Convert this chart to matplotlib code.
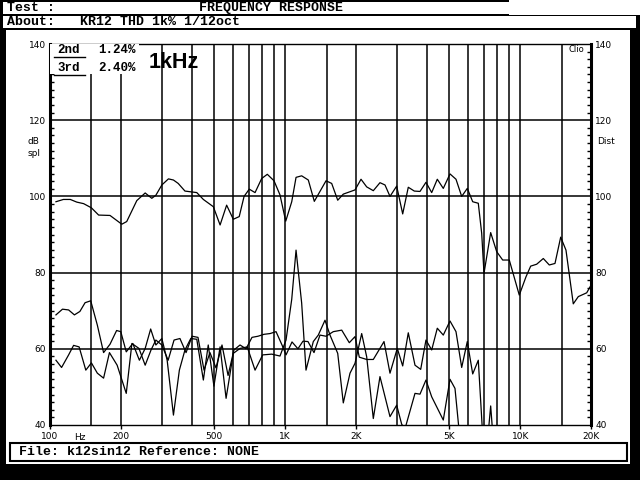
import matplotlib
matplotlib.use("Agg")
import matplotlib.pyplot as plt
from matplotlib.patches import Rectangle
from matplotlib.ticker import FixedLocator, NullLocator, MultipleLocator

# fundamental response, 1/12 oct (Hz, dB spl)
fund_freq = [106, 114, 122, 130, 139, 150, 161, 180, 202, 212, 234, 254, 271, 282, 299,
             319, 335, 351, 375, 421, 449, 495, 529, 564, 602, 638, 669, 704, 745, 795,
             840, 897, 951, 1006, 1067, 1113, 1176, 1255, 1331, 1493, 1578, 1674, 1768,
             1983, 2103, 2223, 2372, 2532, 2660, 2793, 2982, 3163, 3341, 3544, 3747, 3973,
             4202, 4439, 4707, 5027, 5331, 5637, 5955, 6279, 6632, 6857, 7013, 7487, 7941,
             8422, 8984, 9908, 10581, 11079, 11749, 12536, 13293, 14056, 14862, 15653,
             16813, 17660, 19180, 20000]
fund_db = [98.6, 99.2, 99.2, 98.5, 98.1, 97.0, 95.1, 95.0, 92.7, 93.4, 98.9, 100.9, 99.5,
           100.3, 103.0, 104.6, 104.3, 103.4, 101.4, 101.0, 99.2, 97.3, 92.5, 97.7, 94.0,
           94.7, 100.0, 101.9, 101.0, 104.7, 105.8, 104.1, 100.4, 93.5, 98.6, 105.0, 105.4,
           104.3, 98.7, 104.1, 103.4, 99.0, 100.6, 101.7, 104.5, 102.5, 101.5, 103.6, 103.0,
           100.0, 102.7, 95.4, 102.4, 101.4, 101.3, 103.7, 101.0, 104.5, 102.1, 105.9, 104.5,
           100.0, 102.1, 98.6, 98.2, 90.3, 79.8, 90.5, 85.5, 83.3, 83.3, 74.1, 78.9, 81.7,
           82.2, 83.7, 82.0, 82.4, 89.3, 85.9, 71.8, 73.7, 74.7, 76.7]

# 2nd harmonic distortion
h2_freq = [106, 113, 120, 127, 134, 141, 149, 159, 169, 180, 192, 200, 211, 225, 240, 254,
           268, 282, 299, 315, 335, 355, 375, 397, 421, 449, 471, 498, 529, 561, 602, 643,
           690, 745, 803, 877, 951, 1009, 1067, 1113, 1176, 1227, 1318, 1384, 1478, 1552,
           1630, 1674, 1768, 1888, 1983, 2117, 2223, 2372, 2532, 2793, 2982, 3132, 3235,
           3568, 3747, 3973, 4202, 4707, 5027, 5279, 5506]
h2_db = [68.9, 70.4, 70.2, 68.9, 69.8, 72.1, 72.6, 66.2, 59.0, 61.2, 64.8, 64.5, 59.2, 61.4,
         57.0, 60.1, 65.2, 61.0, 62.7, 57.0, 42.6, 54.4, 59.7, 62.7, 62.5, 51.8, 61.0, 50.2,
         60.5, 47.0, 58.8, 60.1, 60.5, 54.4, 58.4, 58.6, 58.1, 62.3, 73.0, 85.9, 72.0, 54.4,
         61.9, 63.6, 67.5, 63.6, 60.5, 58.8, 45.8, 53.6, 56.2, 64.0, 57.9, 41.7, 52.7, 42.2,
         45.2, 40.2, 39.0, 48.3, 48.1, 51.8, 47.4, 41.3, 52.0, 49.6, 38.0]

# 3rd harmonic distortion
h3_freq = [106, 112, 120, 126, 133, 142, 150, 159, 169, 179, 193, 211, 223, 239, 254, 269,
           282, 299, 318, 337, 357, 379, 402, 426, 452, 479, 508, 539, 572, 606, 643, 682,
           723, 767, 813, 863, 915, 970, 1009, 1070, 1134, 1191, 1251, 1327, 1407, 1493,
           1603, 1741, 1875, 1983, 2068, 2223, 2372, 2634, 2793, 3000, 3163, 3341, 3568,
           3773, 3973, 4202, 4439, 4707, 5027, 5331, 5637, 5955, 6279, 6632, 6913, 7313,
           7487, 7635]
h3_db = [57.0, 55.1, 58.4, 60.9, 60.5, 54.4, 56.3, 53.6, 52.3, 59.0, 55.7, 48.3, 61.4, 60.1,
         55.7, 59.7, 62.3, 61.0, 57.0, 62.3, 62.7, 59.0, 63.3, 63.0, 54.4, 59.0, 55.0, 61.0,
         53.0, 59.7, 61.0, 60.0, 63.0, 63.3, 63.8, 64.0, 64.5, 61.0, 58.4, 61.8, 60.0, 62.0,
         61.9, 59.0, 63.6, 63.3, 64.5, 64.9, 61.6, 63.2, 57.8, 57.2, 57.2, 61.9, 53.6, 60.1,
         55.5, 64.2, 55.7, 54.6, 62.3, 59.7, 65.4, 63.6, 67.3, 64.5, 55.1, 61.9, 53.4, 57.0,
         38.0, 38.0, 45.0, 38.0]

grid_freqs = [150, 200, 300, 400, 500, 600, 700, 800, 900, 1000, 1500, 2000, 3000, 4000,
              5000, 6000, 7000, 8000, 9000, 10000, 15000]
grid_levels = [60, 80, 100, 120]
x_ticks = [100, 200, 500, 1000, 2000, 5000, 10000, 20000]
x_labels = ["100", "200", "500", "1K", "2K", "5K", "10K", "20K"]
y_ticks = [40, 60, 80, 100, 120, 140]

mono = "Liberation Mono"

fig = plt.figure(figsize=(6.4, 4.8), dpi=100)
fig.patch.set_facecolor("black")

# background panel in pixel coords
bg = fig.add_axes([0, 0, 1, 1])
bg.set_xlim(0, 640)
bg.set_ylim(480, 0)
bg.axis("off")
bg.add_patch(Rectangle((3, 2), 506, 12, facecolor="white", edgecolor="none"))
bg.add_patch(Rectangle((509, 0), 131, 15, facecolor="white", edgecolor="none"))
bg.add_patch(Rectangle((3, 16), 633, 12, facecolor="white", edgecolor="none"))
bg.add_patch(Rectangle((6, 30), 624, 434, facecolor="white", edgecolor="none"))
bg.add_patch(Rectangle((10, 443), 617, 18, facecolor="white", edgecolor="black", lw=1.5))

bg.text(7, 8, "Test :", fontsize=9.5, family=mono, weight="bold", va="center")
bg.text(271, 8, "FREQUENCY RESPONSE", fontsize=9.5, family=mono, weight="bold",
        va="center", ha="center")
bg.text(7, 22, "About:", fontsize=9.5, family=mono, weight="bold", va="center")
bg.text(80, 22, "KR12 THD 1k% 1/12oct", fontsize=9.5, family=mono, weight="bold", va="center")
bg.text(19, 452, "File: k12sin12 Reference: NONE", fontsize=9.5, family=mono,
        weight="bold", va="center")
bg.text(80, 437, "Hz", fontsize=6.5, va="center", ha="center")
bg.text(28, 141, "dB", fontsize=6.5, va="center")
bg.text(28, 153, "spl", fontsize=6.5, va="center")
bg.text(597, 141, "Dist", fontsize=6.5, va="center")

ax = fig.add_axes([50 / 640, 55 / 480, 541 / 640, 381 / 480])
ax.set_facecolor("none")
ax.set_xscale("log")
ax.set_xlim(100, 20000)
ax.set_ylim(40, 140)

for f in grid_freqs:
    ax.axvline(f, color="black", lw=1.1, zorder=1)
for lv in grid_levels:
    ax.axhline(lv, color="black", lw=1.1, zorder=1)

ax.plot(fund_freq, fund_db, color="black", lw=0.9, zorder=3)
ax.plot(h2_freq, h2_db, color="black", lw=0.9, zorder=3)
ax.plot(h3_freq, h3_db, color="black", lw=0.9, zorder=3)

# blank area behind the legend
ax.fill_between([100, 240], 132, 140, color="white", zorder=4, lw=0)

for s, y in [("2nd", 50), ("3rd", 68)]:
    ax.text(57, y, s, transform=bg.transData, fontsize=9, family=mono, weight="bold",
            va="center", zorder=5)
    ax.plot([54, 85], [y + 6.5, y + 6.5], transform=bg.transData, color="black",
            lw=1, clip_on=False, zorder=5)
ax.text(98, 50, "1.24%", transform=bg.transData, fontsize=9, family=mono,
        weight="bold", va="center", zorder=5)
ax.text(98, 68, "2.40%", transform=bg.transData, fontsize=9, family=mono,
        weight="bold", va="center", zorder=5)
ax.text(149, 63, "1kHz", transform=bg.transData, fontsize=15.5, family="Liberation Sans",
        weight="bold", va="center", zorder=5)
ax.text(576, 50, "Clio", transform=bg.transData, fontsize=6, va="center", ha="center",
        zorder=5)

ax.xaxis.set_major_locator(FixedLocator(x_ticks))
ax.set_xticklabels(x_labels)
ax.xaxis.set_minor_locator(NullLocator())
ax.tick_params(axis="x", direction="out", length=3, width=1, labelsize=6.5, pad=2)

ax.set_yticks(y_ticks)
ax.yaxis.set_minor_locator(MultipleLocator(2))
ax.tick_params(axis="y", which="major", length=0, labelsize=6.5, left=True, right=True,
               labelleft=True, labelright=True, pad=3)
ax.tick_params(axis="y", which="minor", direction="in", length=3, width=1,
               left=True, right=True)

ax.spines["left"].set_linewidth(2.2)
ax.spines["right"].set_linewidth(2.2)
ax.spines["top"].set_linewidth(1)
ax.spines["bottom"].set_linewidth(1)

plt.savefig("out.png", dpi=100, facecolor=fig.get_facecolor())
